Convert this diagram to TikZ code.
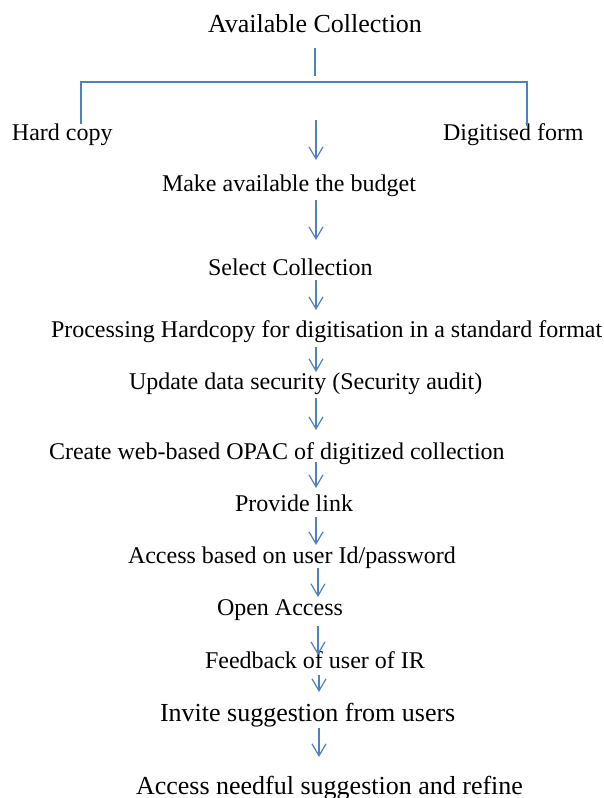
\documentclass[tikz,border=0pt]{standalone}
\usepackage{fontspec}
\setmainfont{Liberation Serif}
\usetikzlibrary{arrows.meta}
\definecolor{lineblue}{HTML}{4F81BD}
\begin{document}
\begin{tikzpicture}[x=1pt,y=-1pt,
  lbl/.style={anchor=base west,inner sep=0pt,outer sep=0pt,font=\fontsize{24}{28}\selectfont},
  big/.style={font=\fontsize{26}{30}\selectfont},
  conn/.style={draw=lineblue,line width=1.2pt},
  flow/.style={conn,-{Straight Barb[length=12pt,width=14pt,line width=1.2pt]}}]
\useasboundingbox[fill=white] (0,0) rectangle (603,798);
% texts
\node[lbl,font=\fontsize{26}{30}\selectfont] (avail) at (208,32) {Available Collection};
\node[lbl] (hard) at (12,140) {Hard copy};
\node[lbl] (digi) at (443,140) {Digitised form};
\node[lbl] (budget) at (162,191) {Make available the budget};
\node[lbl] (select) at (208,275) {Select Collection};
\node[lbl] (proc) at (51,337) {Processing Hardcopy for digitisation in a standard format};
\node[lbl] (update) at (129,389) {Update data security (Security audit)};
\node[lbl] (opac) at (49,459) {Create web-based OPAC of digitized collection};
\node[lbl] (link) at (235,511) {Provide link};
\node[lbl] (acc) at (128,563) {Access based on user Id/password};
\node[lbl] (open) at (217,615) {Open Access};
\node[lbl] (feed) at (205,668) {Feedback of user of IR};
\node[lbl,big] (invite) at (160,721) {Invite suggestion from users};
\node[lbl,big] (refine) at (136,794) {Access needful suggestion and refine};
% branching lines
\coordinate (t0) at (315,48);
\coordinate (t1) at (315,76);
\coordinate (hl) at (81,82);
\coordinate (hr) at (527,82);
\coordinate (hle) at (81,124);
\coordinate (hre) at (527,126);
\draw[conn] (t0) -- (t1);
\draw[conn] (hle) -- (hl) -- (hr) -- (hre);
% arrows
\foreach \i/\xa/\ya/\yb in {1/316/120/160, 2/316/200/240, 3/316/280/310, 4/316/347/372,
  5/316/398/430, 6/316/462/488, 7/316/517/545, 8/318/568/597, 9/318/626/655,
  10/319/675/692, 11/319/728/757}{
  \coordinate (a\i s) at (\xa,\ya);
  \coordinate (a\i e) at (\xa,\yb);
  \draw[flow] (a\i s) -- (a\i e);
}
\end{tikzpicture}
\end{document}
